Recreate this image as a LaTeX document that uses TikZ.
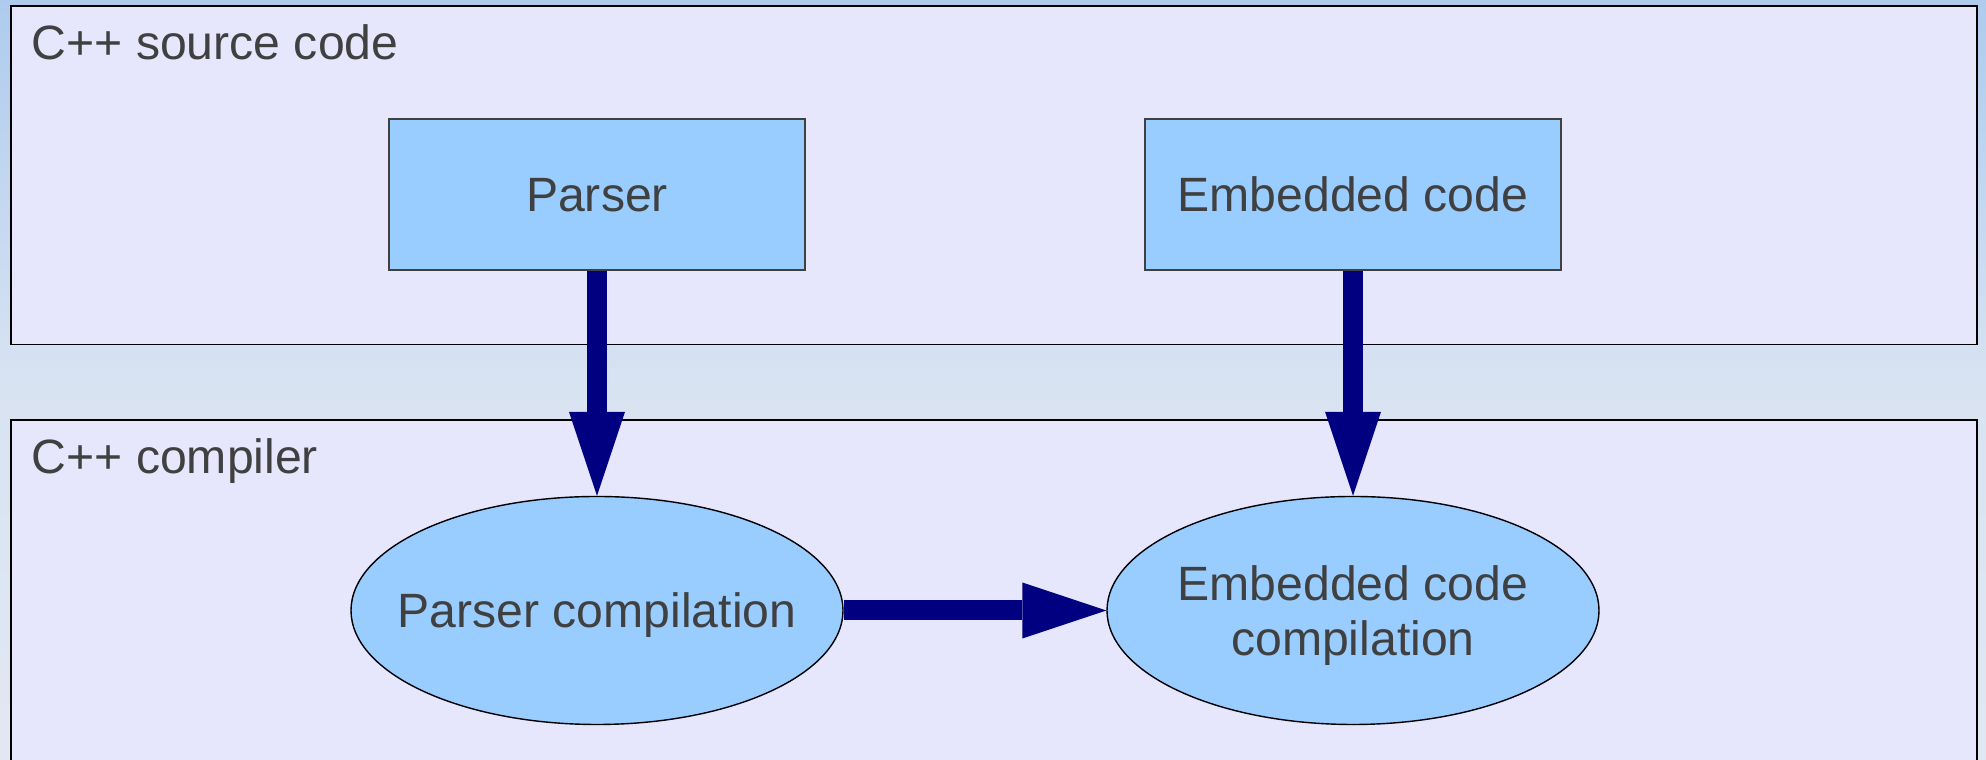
\documentclass[tikz,border=0pt]{standalone}
\usepackage{fontspec}
\setmainfont{Liberation Sans}
\usetikzlibrary{shapes.geometric,arrows.meta}
\definecolor{backtop}{RGB}{174,203,238}
\definecolor{backmid}{RGB}{216,227,242}
\definecolor{backbottom}{RGB}{226,232,243}
\definecolor{panel}{RGB}{230,230,253}
\definecolor{unit}{RGB}{153,204,255}
\definecolor{flow}{RGB}{0,0,128}
\definecolor{txt}{RGB}{64,64,64}
\tikzset{
	panelbox/.style={draw=black, fill=panel, line width=0.5pt},
	panellabel/.style={anchor=base west, inner sep=0pt},
	unitbox/.style={draw=black!75, fill=unit, line width=0.4pt, minimum width=4.16cm, minimum height=1.51cm, inner sep=0pt, text depth=0pt},
	unitoval/.style={ellipse, draw=black, fill=unit, line width=0.4pt, minimum width=4.92cm, minimum height=2.28cm, inner xsep=-8mm, inner ysep=0pt, align=center, text depth=0pt},
	flowarrow/.style={draw=flow, line width=2mm, -{Triangle[length=8.4mm,width=5.6mm,line width=0pt]}},
}

\begin{document}
\begin{tikzpicture}[text=txt, font=\fontsize{13.7}{15.6}\selectfont]

	\useasboundingbox (0,0) rectangle (19.86,7.6);
	\shade[top color=backtop, bottom color=backmid] (0,3.78) rectangle (19.86,7.6);
	\shade[top color=backmid, bottom color=backbottom] (0,0) rectangle (19.86,3.78);

	\coordinate (srcnw) at (0.11,7.54);
	\coordinate (srcse) at (19.77,4.155);
	\coordinate (compnw) at (0.11,3.40);
	\coordinate (compse) at (19.77,-0.1);
	\draw[panelbox] (srcnw) rectangle (srcse);
	\draw[panelbox] (compnw) rectangle (compse);

	\node[panellabel] (srclabel) at (0.31,7.00) {C++ source code};
	\node[panellabel] (complabel) at (0.31,2.86) {C++ compiler};

	\node[unitbox] (parser) at (5.97,5.655) {Parser};
	\node[unitbox] (embed) at (13.53,5.655) {Embedded code};
	\node[unitoval] (parsercomp) at (5.97,1.495) {Parser compilation};
	\node[unitoval] (embedcomp) at (13.53,1.495) {Embedded code\\compilation};

	\draw[flowarrow] (parser) -- (parsercomp);
	\draw[flowarrow] (embed) -- (embedcomp);
	\draw[flowarrow] (parsercomp) -- (embedcomp);

\end{tikzpicture}
\end{document}
